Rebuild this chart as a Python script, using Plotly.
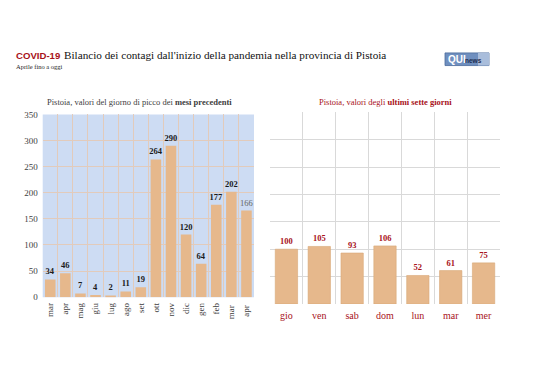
import plotly.graph_objects as go

months = ["mar", "apr", "mag", "giu", "lug", "ago", "set", "ott", "nov", "dic", "gen", "feb", "mar ", "apr "]
peak_values = [34, 46, 7, 4, 2, 11, 19, 264, 290, 120, 64, 177, 202, 166]
days = ["gio", "ven", "sab", "dom", "lun", "mar", "mer"]
week_values = [100, 105, 93, 106, 52, 61, 75]

SERIF = "Liberation Serif"
RED = "#a8121a"
BAR = "#e6b88c"

OFF = 8  # page body margin
W, H = 538 - OFF, 380 - OFF
def px(x): return (x - OFF) / W
def py(y): return 1 - (y - OFF) / H

fig = go.Figure()

left_text = [f"<b>{v}</b>" for v in peak_values[:-1]] + [str(peak_values[-1])]
left_colors = ["#1a1a1a"] * (len(peak_values) - 1) + ["#666666"]
fig.add_trace(go.Bar(
    x=months, y=peak_values, text=left_text, textposition="outside", constraintext="none",
    textfont=dict(family=SERIF, size=8.5, color=left_colors),
    marker=dict(color=BAR, line=dict(width=0)), width=0.7, cliponaxis=False,
    xaxis="x", yaxis="y", showlegend=False,
))
fig.add_trace(go.Bar(
    x=days, y=week_values, text=[f"<b>{v}</b>" for v in week_values], textposition="outside",
    constraintext="none",
    textfont=dict(family=SERIF, size=8.5, color=RED),
    marker=dict(color=BAR, line=dict(width=0.6, color="#d9a877")), width=0.68, cliponaxis=False,
    xaxis="x2", yaxis="y2", showlegend=False,
))

fig.update_layout(
    width=W, height=H, margin=dict(l=0, r=0, t=0, b=0),
    paper_bgcolor="white", plot_bgcolor="white",
    xaxis=dict(domain=[px(42.7), px(254)], type="category", tickson="boundaries",
               showgrid=True, gridcolor="#e2cbbb", gridwidth=1, tickangle=-90,
               tickfont=dict(family=SERIF, size=9, color="#404040"), ticks="",
               ticklabelstandoff=3,
               showline=False, zeroline=False, anchor="y"),
    yaxis=dict(domain=[py(300), py(112.3)], range=[0, 350], dtick=50, showgrid=True,
               gridcolor="#e2cbbb", gridwidth=1, zeroline=False, ticklabelstandoff=4,
               tickfont=dict(family=SERIF, size=9, color="#404040"), ticks="", anchor="x"),
    xaxis2=dict(domain=[px(270), px(500)], type="category", tickson="boundaries",
                showgrid=True, gridcolor="#d9d9d9", gridwidth=1, ticklabelstandoff=4,
                tickfont=dict(family=SERIF, size=10, color=RED), ticks="",
                showline=False, zeroline=False, anchor="y2"),
    yaxis2=dict(domain=[py(307), py(110)], range=[0, 350], dtick=50, showgrid=True,
                gridcolor="#d9d9d9", gridwidth=1, zeroline=False,
                showticklabels=False, ticks="", anchor="x2"),
)

# light blue plot background for the left chart
fig.add_shape(type="rect", xref="x domain", yref="y domain", x0=0, x1=1, y0=0, y1=1,
              fillcolor="#cddcf3", line=dict(width=0), layer="below")

ann = [
    dict(x=px(14), y=py(51.5), text="<b>COVID-19</b>", font=dict(family="Liberation Sans", size=9.6, color=RED)),
    dict(x=px(62), y=py(51.5), text="Bilancio dei contagi dall'inizio della pandemia nella provincia di Pistoia",
         font=dict(family=SERIF, size=11.2, color="#111111")),
    dict(x=px(14), y=py(63), text="Aprile fino a oggi", font=dict(family=SERIF, size=6.5, color="#222222")),
    dict(x=px(45), y=py(99), text="Pistoia, valori del giorno di picco dei <b>mesi precedenti</b>",
         font=dict(family=SERIF, size=8.5, color="#404040")),
    dict(x=px(317), y=py(99), text="Pistoia, valori degli <b>ultimi sette giorni</b>",
         font=dict(family=SERIF, size=8.5, color=RED)),
]
for a in ann:
    fig.add_annotation(xref="paper", yref="paper", xanchor="left", yanchor="middle",
                       showarrow=False, **a)

# QUI news logo
fig.add_shape(type="rect", xref="paper", yref="paper", x0=px(445), x1=px(489), y0=py(62), y1=py(49),
              fillcolor="#6f8fbf", line=dict(color="#4a6a9c", width=0.8))
fig.add_shape(type="rect", xref="paper", yref="paper", x0=px(478), x1=px(489), y0=py(62), y1=py(49),
              fillcolor="#a9bddb", line=dict(width=0))
fig.add_annotation(xref="paper", yref="paper", x=px(446), y=py(55.5), xanchor="left", yanchor="middle",
                   showarrow=False, text="<b>QUI</b>", font=dict(family="Liberation Sans", size=10, color="white"))
fig.add_annotation(xref="paper", yref="paper", x=px(463), y=py(56.5), xanchor="left", yanchor="middle",
                   showarrow=False, text="<b>news</b>", font=dict(family="Liberation Sans", size=6.5, color="#1d2d4d"))

fig.write_html("out.html")
